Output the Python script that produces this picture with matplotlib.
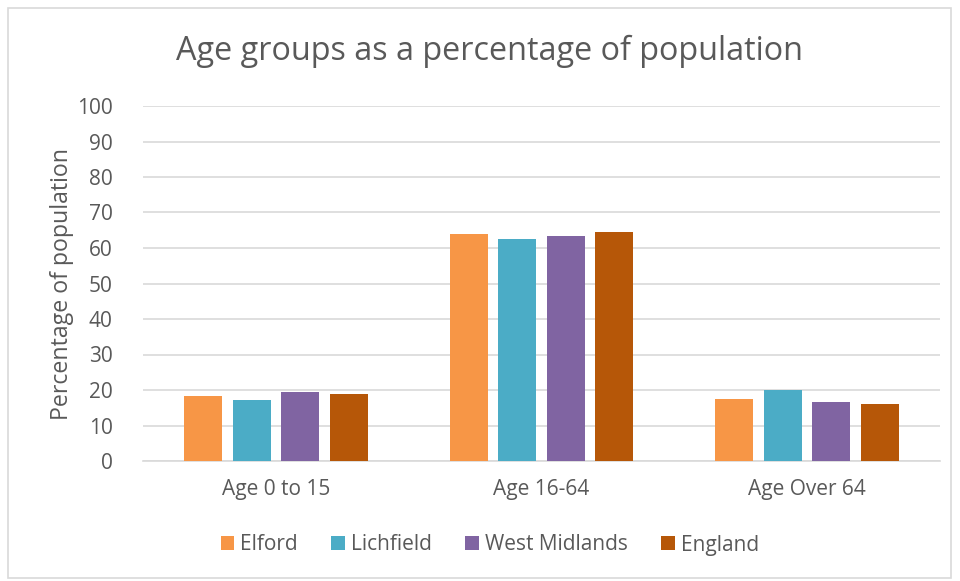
import matplotlib
matplotlib.use("Agg")
import matplotlib.pyplot as plt
import numpy as np
from matplotlib.patches import Rectangle

categories = ["Age 0 to 15", "Age 16-64", "Age Over 64"]
series_names = ["Elford", "Lichfield", "West Midlands", "England"]
elford = [18.3, 63.9, 17.4]
lichfield = [17.3, 62.4, 20.0]
west_midlands = [19.4, 63.5, 16.7]
england = [18.9, 64.6, 16.1]
colors = ["#F79646", "#4BACC6", "#8064A2", "#B65708"]
yticks = [0, 10, 20, 30, 40, 50, 60, 70, 80, 90, 100]

plt.rcParams['font.family'] = ['Open Sans', 'DejaVu Sans']
txt = "#595959"

fig = plt.figure(figsize=(9.6, 5.81), dpi=100)
ax = fig.add_axes([143/960, 1-461/581, (940-143)/960, (461-106)/581])

data = [elford, lichfield, west_midlands, england]
x = np.arange(len(categories))
bw = 38/265.7
step = 48.5/265.7
offsets = (np.arange(4) - 1.5) * step
for i, (vals, c, name) in enumerate(zip(data, colors, series_names)):
    ax.bar(x + offsets[i], vals, width=bw, color=c, label=name,
           linewidth=0, zorder=3)

ax.set_xlim(-0.5, 2.5)
ax.set_ylim(0, 100)
ax.set_yticks(yticks)
ax.yaxis.grid(True, color="#D9D9D9", linewidth=1.2, zorder=0)
ax.set_axisbelow(True)
for s in ["top", "right", "left"]:
    ax.spines[s].set_visible(False)
ax.spines["bottom"].set_color("#D9D9D9")
ax.spines["bottom"].set_linewidth(1.2)
ax.tick_params(axis="both", length=0, labelsize=15, colors=txt)
ax.tick_params(axis="y", pad=22)
ax.tick_params(axis="x", pad=13)
ax.set_xticks(x)
ax.set_xticklabels(categories)
ylab = ax.set_ylabel("Percentage of population", fontsize=16.7, color=txt)
ax.yaxis.set_label_coords((62-143)/797, 0.5)
ylab.set_va("center")

fig.text(489/960, 1-51/581, "Age groups as a percentage of population",
         ha="center", va="center", fontsize=23.3, color=txt)

leg = fig.legend(loc="center", bbox_to_anchor=(490/960, 1-545/581), ncol=4,
                 frameon=False, fontsize=15, handlelength=0.65, handleheight=0.65,
                 handletextpad=0.3, columnspacing=1.6, labelcolor=txt)

fig.patches.append(Rectangle((8/960, 3/581), (951-8)/960, (578-8)/581,
                             transform=fig.transFigure, fill=False,
                             edgecolor="#D9D9D9", linewidth=1.2))

fig.savefig("out.png", dpi=100)
